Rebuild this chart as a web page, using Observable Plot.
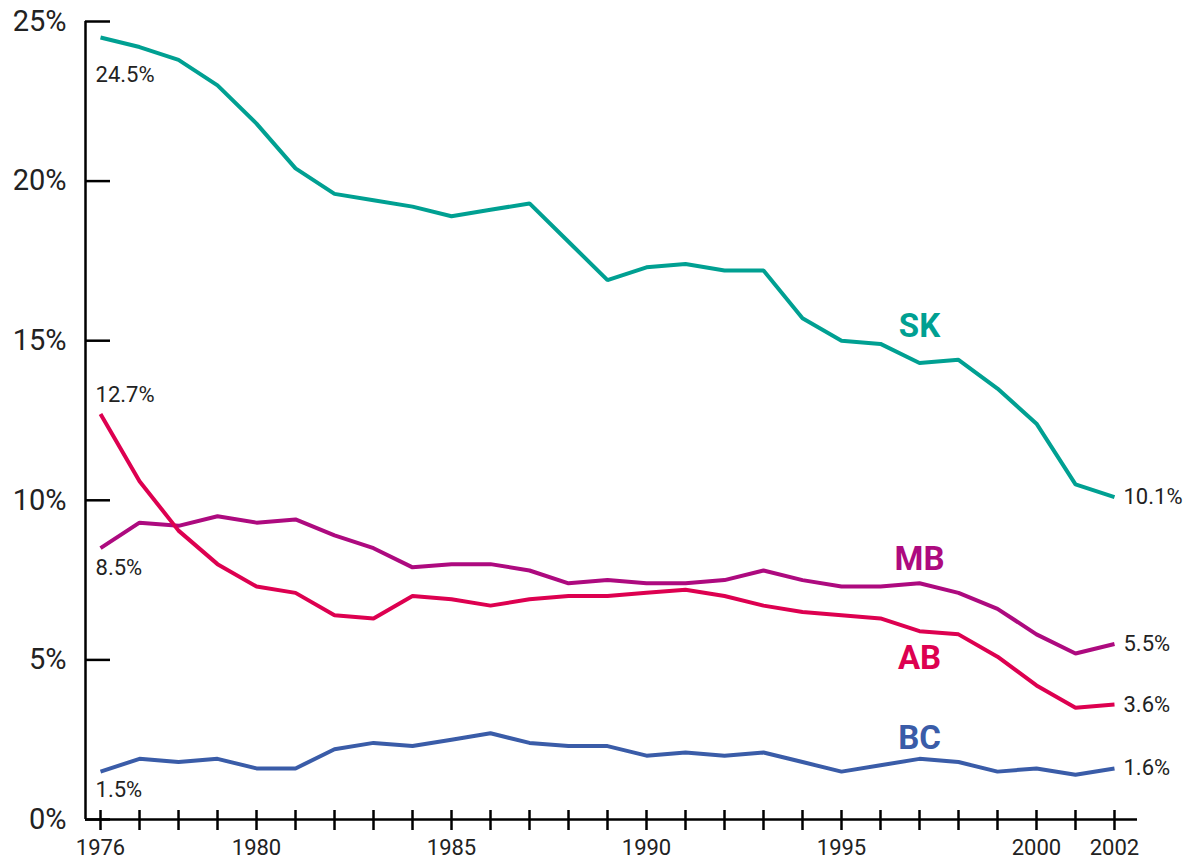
<!DOCTYPE html>
<html><head><meta charset="utf-8">
<script src="https://cdn.jsdelivr.net/npm/d3@7"></script>
<script src="https://cdn.jsdelivr.net/npm/@observablehq/plot@0.6"></script>
<style>body{margin:0;background:#fff;}#chart svg{display:block;}</style>
</head><body><div id="chart"></div>
<script>
const years = [1976,1977,1978,1979,1980,1981,1982,1983,1984,1985,1986,1987,1988,1989,1990,1991,1992,1993,1994,1995,1996,1997,1998,1999,2000,2001,2002];
const SK = [24.5,24.2,23.8,23.0,21.8,20.4,19.6,19.4,19.2,18.9,19.1,19.3,18.1,16.9,17.3,17.4,17.2,17.2,15.7,15.0,14.9,14.3,14.4,13.5,12.4,10.5,10.1];
const AB = [12.7,10.6,9.05,8.0,7.3,7.1,6.4,6.3,7.0,6.9,6.7,6.9,7.0,7.0,7.1,7.2,7.0,6.7,6.5,6.4,6.3,5.9,5.8,5.1,4.2,3.5,3.6];
const MB = [8.5,9.3,9.2,9.5,9.3,9.4,8.9,8.5,7.9,8.0,8.0,7.8,7.4,7.5,7.4,7.4,7.5,7.8,7.5,7.3,7.3,7.4,7.1,6.6,5.8,5.2,5.5];
const BC = [1.5,1.9,1.8,1.9,1.6,1.6,2.2,2.4,2.3,2.5,2.7,2.4,2.3,2.3,2.0,2.1,2.0,2.1,1.8,1.5,1.7,1.9,1.8,1.5,1.6,1.4,1.6];
const seriesNames = ["SK","MB","AB","BC"];
const seriesColors = ["#00A092","#AD0A7F","#DD0050","#3A5CA8"];
const yTicks = [0,5,10,15,20,25];
const xLabelYears = [1976,1980,1985,1990,1995,2000,2002];
// series name label anchors (year, value)
const nameLabelYear = [1997,1997,1997,1997];
const nameLabelValue = [15.45,8.15,5.05,2.55];
// start-label vertical offsets (px) for SK, MB, AB, BC
const startDy = [37,20,-19,18];

const seriesValues = [SK, MB, AB, BC];
const data = [];
seriesNames.forEach((s,i)=>years.forEach((y,j)=>data.push({series:s, year:y, value:seriesValues[i][j]})));
const startData = seriesNames.map((s,i)=>({series:s, year:years[0], value:seriesValues[i][0]}));
const endData = seriesNames.map((s,i)=>({series:s, year:years[years.length-1], value:seriesValues[i][years.length-1]}));
const nameData = seriesNames.map((s,i)=>({series:s, year:nameLabelYear[i], value:nameLabelValue[i]}));

const xDomain = [1975.615, 2002.59];
const fmt = v => (Math.round(v*10)/10).toFixed(1) + "%";

const marks = [
  Plot.ruleY([0], {stroke:"#000", strokeWidth:2.5}),
  Plot.ruleX([xDomain[0]], {stroke:"#000", strokeWidth:2.5}),
  Plot.axisY(yTicks, {tickSize:-25, tickFormat:()=>"", strokeWidth:2.5, label:null, stroke:"#000"}),
  Plot.axisY(yTicks, {tickSize:0, tickPadding:19, tickFormat:d=>d+"%", fontSize:29, label:null, fill:"#222"}),
  Plot.axisX(years, {tickSize:11, tickFormat:()=>"", strokeWidth:2.5, label:null, stroke:"#000"}),
  Plot.axisX(years, {tickSize:-9, tickFormat:()=>"", strokeWidth:2.5, label:null, stroke:"#000"}),
  Plot.axisX(xLabelYears, {tickSize:0, tickPadding:20, tickFormat:d=>String(d), fontSize:22, label:null, fill:"#222"}),
  Plot.line(data, {x:"year", y:"value", z:"series", stroke:"series", strokeWidth:4, strokeLinejoin:"miter", strokeLinecap:"butt"}),
  Plot.text(endData, {x:"year", y:"value", text:d=>fmt(d.value), dx:9, textAnchor:"start", fontSize:22, fill:"#222"}),
  ...startData.map((d,i)=>Plot.text([d], {x:"year", y:"value", text:e=>fmt(e.value), dx:-5, dy:startDy[i], textAnchor:"start", fontSize:22, fill:"#222"})),
  Plot.text(nameData, {x:"year", y:"value", text:"series", fill:"series", fontWeight:"bold", fontSize:33, textAnchor:"middle"})
];

const chart = Plot.plot({
  width:1189, height:863,
  marginLeft:85, marginRight:52, marginTop:21, marginBottom:44,
  x:{domain:xDomain, axis:null},
  y:{domain:[0,25], axis:null},
  color:{domain:seriesNames, range:seriesColors},
  style:{fontFamily:"Roboto", background:"#fff", color:"#222"},
  marks
});
document.getElementById("chart").appendChild(chart);
</script>
</body></html>
